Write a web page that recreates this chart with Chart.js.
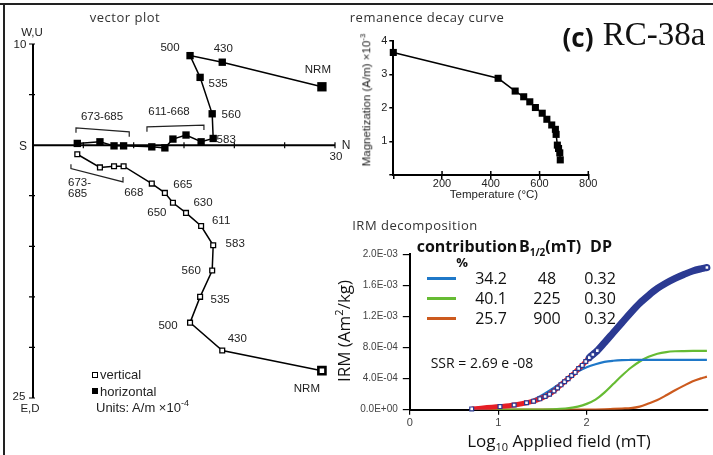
<!DOCTYPE html>
<html lang="en">
<head>
<meta charset="UTF-8">
<title>RC-38a</title>
<style>
    body { margin: 0; background: #fff; font-family: Arial, "Liberation Sans", sans-serif; color: #222; }
    #wrap { position: relative; width: 713px; height: 455px; overflow: hidden; }
    canvas { position: absolute; }
    .c, .l, .rot { position: absolute; white-space: nowrap; line-height: 1; }
    .c { transform: translate(-50%, -50%); }
    .l { transform: translate(0, -50%); }
    .rot { transform: translate(-50%, -50%) rotate(-90deg); }
    .ttl { font-family: "Open Sans", sans-serif; font-size: 13px; color: #333; letter-spacing: 0.5px; }
    .lbl { font-size: 11.5px; }
    .irm { font-family: "Open Sans", sans-serif; color: #111; }
    sub, sup { line-height: 0; }
    .swatch { position: absolute; height: 3px; width: 29px; left: 427px; }
</style>
<script src="https://cdn.jsdelivr.net/npm/chart.js"></script>
</head>
<body>
<div id="wrap">
    <div style="position:absolute;left:0;top:3px;width:713px;height:2px;background:#222"></div>
    <div style="position:absolute;left:3px;top:3px;width:2px;height:452px;background:#222"></div>

    <canvas id="zij" width="345" height="455" style="left:0;top:0"></canvas>
    <canvas id="decay" width="270" height="210" style="left:330px;top:0"></canvas>
    <canvas id="irm" width="383" height="245" style="left:330px;top:210px"></canvas>

    <!-- vector plot texts -->
    <div class="c ttl" style="left:125px;top:17px">vector plot</div>
    <div class="c lbl" style="left:32px;top:33px">W,U</div>
    <div class="c lbl" style="left:20px;top:45px">10</div>
    <div class="c" style="left:23px;top:146px;font-size:12px">S</div>
    <div class="c" style="left:346px;top:145px;font-size:12px">N</div>
    <div class="c lbl" style="left:336px;top:157px">30</div>
    <div class="c lbl" style="left:19px;top:397px">25</div>
    <div class="c lbl" style="left:30px;top:409px">E,D</div>
    <div class="c lbl" style="left:102px;top:117px">673-685</div>
    <div class="c lbl" style="left:169px;top:112px">611-668</div>
    <div class="l lbl" style="left:68px;top:183px">673-</div>
    <div class="l lbl" style="left:68px;top:194px">685</div>
    <div style="position:absolute;left:92px;top:372px;width:4px;height:4px;border:1.3px solid #000"></div>
    <div class="l" style="left:100px;top:374px;font-size:13px">vertical</div>
    <div style="position:absolute;left:92px;top:388px;width:6px;height:6px;background:#000"></div>
    <div class="l" style="left:100px;top:391px;font-size:13px">horizontal</div>
    <div class="l" style="left:96px;top:407px;font-size:13px">Units: A/m &times;10<sup style="font-size:9px">-4</sup></div>

    <!-- decay texts -->
    <div class="c ttl" style="left:427px;top:17px">remanence decay curve</div>
    <div class="rot" style="left:367px;top:100px;font-size:11.5px">Magnetization (A/m) &times;10<sup style="font-size:8px">-3</sup></div>
    <div class="c" style="left:494px;top:195px;font-size:11.5px">Temperature (&deg;C)</div>
    <div class="c" style="left:578px;top:37px;font-family:'Open Sans',sans-serif;font-weight:700;font-size:26px;color:#111">(c)</div>
    <div class="c" style="left:654px;top:34px;font-family:'Liberation Serif',serif;font-size:33px;color:#111">RC-38a</div>

    <!-- IRM texts -->
    <div class="c ttl" style="left:415px;top:225px">IRM decomposition</div>
    <div class="rot irm" style="left:343px;top:331px;font-size:17px">IRM (Am<sup style="font-size:11px">2</sup>/kg)</div>
    <div class="c irm" style="left:559px;top:440px;font-size:17px">Log<sub style="font-size:11px">10</sub> Applied field (mT)</div>
    <div class="c irm" style="left:467px;top:246px;font-size:16px;font-weight:700">contribution</div>
    <div class="c irm" style="left:550px;top:246px;font-size:16px;font-weight:700">B<sub style="font-size:10px">1/2</sub>(mT)</div>
    <div class="c irm" style="left:601px;top:246px;font-size:16px;font-weight:700">DP</div>
    <div class="c irm" style="left:462px;top:262px;font-size:13px;font-weight:700">%</div>
    <div class="swatch" style="top:277px;background:#1f78c8"></div>
    <div class="swatch" style="top:297px;background:#66bb33"></div>
    <div class="swatch" style="top:317px;background:#cc5a1e"></div>
    <div class="c irm" style="left:491px;top:278px;font-size:16px">34.2</div>
    <div class="c irm" style="left:547px;top:278px;font-size:16px">48</div>
    <div class="c irm" style="left:600px;top:278px;font-size:16px">0.32</div>
    <div class="c irm" style="left:491px;top:298px;font-size:16px">40.1</div>
    <div class="c irm" style="left:547px;top:298px;font-size:16px">225</div>
    <div class="c irm" style="left:600px;top:298px;font-size:16px">0.30</div>
    <div class="c irm" style="left:491px;top:318px;font-size:16px">25.7</div>
    <div class="c irm" style="left:547px;top:318px;font-size:16px">900</div>
    <div class="c irm" style="left:600px;top:318px;font-size:16px">0.32</div>
    <div class="c irm" style="left:482px;top:363px;font-size:14px">SSR = 2.69 e -08</div>
</div>

<script>
    // vector plot: demagnetisation steps, components in A/m x1e-4
    const stepLabels = ['NRM', '430', '500', '535', '560', '583', '611', '630', '650', '665', '668', '673', '678', '683', '685'];
    const northComp = [28.7, 18.8, 15.6, 16.6, 17.8, 17.9, 16.7, 15.2, 13.9, 13.1, 11.8, 9.0, 8.05, 6.65, 4.4];
    const westComp = [5.77, 8.2, 8.85, 6.7, 3.1, 0.66, 0.33, 1.0, 0.6, -0.27, -0.17, -0.07, -0.07, 0.33, 0.17];
    const downComp = [22.3, 20.3, 17.55, 15.0, 12.4, 9.9, 8.0, 6.7, 5.7, 4.72, 3.8, 2.08, 2.08, 2.2, 0.9];

    // grouping brackets (data units)
    const bracketHighX = [4.27, 4.27, 9.56, 9.56];
    const bracketHighY = [1.22, 1.71, 1.32, 0.82];
    const bracketMidX = [11.32, 11.32, 16.98, 16.98];
    const bracketMidY = [1.32, 1.81, 1.98, 1.49];
    const bracketLowX = [3.77, 3.77, 8.94, 8.94];
    const bracketLowY = [-1.88, -2.31, -3.63, -3.14];

    // remanence decay curve
    const decayTemp = [0, 430, 500, 535, 560, 583, 611, 630, 650, 665, 668, 673, 678, 683, 685];
    const decayMag = [3.65, 2.88, 2.5, 2.33, 2.18, 2.01, 1.84, 1.66, 1.49, 1.36, 1.21, 0.89, 0.79, 0.66, 0.45];

    // IRM acquisition (log10 mT, Am2/kg x1e-3)
    const irmLogB = [0.70, 1.02, 1.18, 1.32, 1.40, 1.47, 1.53, 1.58, 1.63, 1.67, 1.71, 1.75, 1.79, 1.83, 1.87, 1.91, 1.95, 1.99, 2.03, 2.07, 2.12, 2.2, 2.3, 2.4, 2.5, 2.6, 2.7, 2.8, 2.9, 3.0, 3.1, 3.2, 3.3, 3.36];
    const irmM = [0.01, 0.04, 0.06, 0.09, 0.11, 0.14, 0.17, 0.20, 0.24, 0.28, 0.32, 0.36, 0.40, 0.44, 0.48, 0.53, 0.57, 0.62, 0.67, 0.71, 0.76, 0.86, 0.99, 1.12, 1.25, 1.37, 1.47, 1.56, 1.63, 1.69, 1.74, 1.785, 1.815, 1.83];

    // components
    const compLogB = [0.7, 0.9, 1.1, 1.3, 1.4, 1.5, 1.6, 1.7, 1.8, 1.9, 2.0, 2.1, 2.2, 2.3, 2.4, 2.5, 2.6, 2.7, 2.8, 2.9, 3.0, 3.1, 3.2, 3.3, 3.36];
    const comp1M = [0.008, 0.02, 0.045, 0.09, 0.13, 0.19, 0.26, 0.34, 0.42, 0.49, 0.545, 0.585, 0.615, 0.63, 0.638, 0.64, 0.641, 0.641, 0.641, 0.641, 0.641, 0.641, 0.641, 0.641, 0.641];
    const comp2M = [0, 0, 0, 0, 0, 0.002, 0.005, 0.01, 0.02, 0.04, 0.075, 0.13, 0.22, 0.33, 0.44, 0.54, 0.62, 0.68, 0.72, 0.742, 0.752, 0.755, 0.756, 0.756, 0.756];
    const comp3M = [0, 0, 0, 0, 0, 0, 0, 0, 0, 0, 0, 0.002, 0.005, 0.01, 0.015, 0.02, 0.04, 0.08, 0.125, 0.185, 0.25, 0.31, 0.365, 0.405, 0.425];

    const pts = (xs, ys, sign) => xs.map((v, i) => ({ x: v, y: (sign || 1) * ys[i] }));

    // label offsets in px from the point (text centre)
    const hLabelOffsets = { 0: [-4, -17], 1: [1, -13], 2: [-20, -8], 3: [18, 6], 4: [19, 1], 5: [13, 1] };
    const vLabelOffsets = { 0: [-15, 18], 1: [15, -12], 2: [-22, 3], 3: [20, 3], 4: [-21, 0], 5: [22, -1], 6: [20, -5], 7: [17, -10], 8: [-16, 10], 9: [18, -8], 10: [-18, 9] };

    const zijPlugin = {
        id: 'zijPlugin',
        beforeDatasetsDraw(chart) {
            const { ctx, scales: { x, y } } = chart;
            const x0 = x.getPixelForValue(0), y0 = y.getPixelForValue(0);
            ctx.save();
            ctx.strokeStyle = '#000';
            ctx.lineWidth = 2;
            ctx.beginPath();
            ctx.moveTo(x0, y.getPixelForValue(10));
            ctx.lineTo(x0, y.getPixelForValue(-25));
            ctx.moveTo(x0, y0);
            ctx.lineTo(x.getPixelForValue(30), y0);
            ctx.stroke();
            ctx.lineWidth = 1.2;
            ctx.beginPath();
            for (let v = 5; v <= 30; v += 5) {
                const px = x.getPixelForValue(v);
                ctx.moveTo(px, y0 - 3);
                ctx.lineTo(px, y0 + 3);
            }
            for (let v = -25; v <= 10; v += 5) {
                if (v === 0) continue;
                const py = y.getPixelForValue(v);
                ctx.moveTo(x0 - 4, py);
                ctx.lineTo(x0 + 2, py);
            }
            ctx.stroke();
            ctx.restore();
        },
        afterDatasetsDraw(chart) {
            const { ctx, scales: { x, y } } = chart;
            ctx.save();
            ctx.font = '11.5px Arial, "Liberation Sans", sans-serif';
            ctx.fillStyle = '#222';
            ctx.textAlign = 'center';
            ctx.textBaseline = 'middle';
            for (const [i, off] of Object.entries(hLabelOffsets)) {
                ctx.fillText(stepLabels[i], x.getPixelForValue(northComp[i]) + off[0], y.getPixelForValue(westComp[i]) + off[1]);
            }
            for (const [i, off] of Object.entries(vLabelOffsets)) {
                ctx.fillText(stepLabels[i], x.getPixelForValue(northComp[i]) + off[0], y.getPixelForValue(-downComp[i]) + off[1]);
            }
            ctx.restore();
        }
    };

    const bracket = (xs, ys) => ({
        data: pts(xs, ys), showLine: true, borderColor: '#222', borderWidth: 1.2,
        pointRadius: 0, tension: 0, order: 5
    });

    new Chart(document.getElementById('zij'), {
        type: 'scatter',
        data: {
            datasets: [{
                label: 'horizontal',
                data: pts(northComp, westComp),
                showLine: true,
                borderColor: '#000',
                borderWidth: 1.5,
                pointStyle: 'rect',
                pointRadius: ctx => ctx.dataIndex === 0 ? 6.6 : 5.2,
                pointBackgroundColor: '#000',
                pointBorderWidth: 0,
                order: 1
            }, {
                label: 'vertical',
                data: pts(northComp, downComp, -1),
                showLine: true,
                borderColor: '#000',
                borderWidth: 1.5,
                pointStyle: 'rect',
                pointRadius: ctx => ctx.dataIndex === 0 ? 5 : 3.4,
                pointBackgroundColor: '#fff',
                pointBorderColor: '#000',
                pointBorderWidth: ctx => ctx.dataIndex === 0 ? 2.6 : 1.3,
                order: 2
            },
            bracket(bracketHighX, bracketHighY),
            bracket(bracketMidX, bracketMidY),
            bracket(bracketLowX, bracketLowY)]
        },
        options: {
            responsive: false,
            animation: false,
            clip: false,
            layout: { padding: { left: 33, right: 10, top: 44, bottom: 57 } },
            plugins: { legend: { display: false }, tooltip: { enabled: false } },
            scales: {
                x: { type: 'linear', min: 0, max: 30, display: false },
                y: { type: 'linear', min: -25, max: 10, display: false }
            }
        },
        plugins: [zijPlugin]
    });

    const tickFont = { family: 'Arial, "Liberation Sans", sans-serif', size: 11 };

    // inward half of the x ticks on the decay plot
    const crossTicks = {
        id: 'crossTicks',
        afterDraw(chart) {
            const { ctx, scales: { x }, chartArea } = chart;
            ctx.save();
            ctx.strokeStyle = '#000';
            ctx.lineWidth = 1.5;
            ctx.beginPath();
            x.ticks.forEach(t => {
                const px = x.getPixelForValue(t.value);
                ctx.moveTo(px, chartArea.bottom);
                ctx.lineTo(px, chartArea.bottom - 4);
            });
            ctx.stroke();
            ctx.restore();
        }
    };

    new Chart(document.getElementById('decay'), {
        type: 'scatter',
        data: {
            datasets: [{
                data: pts(decayTemp, decayMag),
                showLine: true,
                borderColor: '#000',
                borderWidth: 1.5,
                pointStyle: 'rect',
                pointRadius: 5,
                pointBackgroundColor: '#000',
                pointBorderWidth: 0,
                clip: false
            }]
        },
        options: {
            responsive: false,
            animation: false,
            layout: { padding: { left: 0, right: 11.7, top: 40.7, bottom: 0 } },
            plugins: { legend: { display: false }, tooltip: { enabled: false } },
            scales: {
                x: {
                    type: 'linear', min: 0, max: 800,
                    afterFit: s => { s.height = 35; },
                    border: { color: '#000', width: 2 },
                    grid: { drawOnChartArea: false, color: '#000', tickLength: 4, lineWidth: 1.5 },
                    ticks: { stepSize: 200, font: tickFont, color: '#222', padding: -2, maxRotation: 0,
                        callback: v => v === 0 ? '' : v }
                },
                y: {
                    type: 'linear', min: 0, max: 4,
                    afterFit: s => { s.width = 63.3; },
                    border: { color: '#000', width: 2 },
                    grid: { drawOnChartArea: false, color: '#000', tickLength: 4, lineWidth: 1.5 },
                    ticks: { stepSize: 1, font: tickFont, color: '#222', padding: 2,
                        callback: v => v === 0 ? '' : v }
                }
            }
        },
        plugins: [crossTicks]
    });

    const fmtE = v => {
        const [m, e] = (v * 1e-3).toExponential(1).split('e');
        const n = parseInt(e, 10);
        return m + 'E' + (n < 0 ? '-' : '+') + String(Math.abs(n)).padStart(2, '0');
    };

    const navy = '#2b3a92';

    new Chart(document.getElementById('irm'), {
        type: 'scatter',
        data: {
            datasets: [{
                label: 'IRM data',
                data: pts(irmLogB, irmM),
                showLine: true,
                cubicInterpolationMode: 'monotone',
                borderColor: navy,
                borderWidth: 7,
                borderCapStyle: 'round',
                segment: {
                    borderColor: ctx => ctx.p0.parsed.x >= 2.0 ? navy : 'rgba(0,0,0,0)'
                },
                pointStyle: 'rect',
                pointRadius: ctx => (irmLogB[ctx.dataIndex] < 2.15 || ctx.dataIndex === irmLogB.length - 1) ? 2.7 : 0,
                pointBackgroundColor: '#fff',
                pointBorderColor: navy,
                pointBorderWidth: 1.2,
                clip: false,
                order: 0
            }, {
                label: 'fit',
                data: pts(irmLogB, irmM),
                showLine: true,
                cubicInterpolationMode: 'monotone',
                borderColor: '#e61e25',
                borderWidth: 5,
                pointRadius: 0,
                order: 1
            }, {
                label: 'component 1',
                data: pts(compLogB, comp1M),
                showLine: true,
                cubicInterpolationMode: 'monotone',
                borderColor: '#1f78c8',
                borderWidth: 2.2,
                pointRadius: 0,
                order: 2
            }, {
                label: 'component 2',
                data: pts(compLogB, comp2M),
                showLine: true,
                cubicInterpolationMode: 'monotone',
                borderColor: '#66bb33',
                borderWidth: 2.2,
                pointRadius: 0,
                order: 3
            }, {
                label: 'component 3',
                data: pts(compLogB, comp3M),
                showLine: true,
                cubicInterpolationMode: 'monotone',
                borderColor: '#cc5a1e',
                borderWidth: 2.2,
                pointRadius: 0,
                order: 4
            }]
        },
        options: {
            responsive: false,
            animation: false,
            layout: { padding: { left: 0, right: 4.6, top: 44.3, bottom: 0 } },
            plugins: { legend: { display: false }, tooltip: { enabled: false } },
            scales: {
                x: {
                    type: 'linear', min: 0, max: 3.37,
                    afterFit: s => { s.height = 45.3; },
                    afterBuildTicks: s => { s.ticks = s.ticks.filter(t => Number.isInteger(t.value)); },
                    border: { color: '#000', width: 2 },
                    grid: { drawOnChartArea: false, color: '#000', tickLength: 5, lineWidth: 1.2 },
                    ticks: { stepSize: 1, font: { family: 'Arial, sans-serif', size: 11 }, color: '#444', padding: 2, maxRotation: 0 }
                },
                y: {
                    type: 'linear', min: 0, max: 2.0,
                    afterFit: s => { s.width = 79.8; },
                    border: { color: '#000', width: 2 },
                    grid: { drawOnChartArea: false, color: '#000', tickLength: 7, lineWidth: 1.2 },
                    ticks: { stepSize: 0.4, font: { family: 'Arial, sans-serif', size: 10 }, color: '#444', padding: 5,
                        callback: v => fmtE(v) }
                }
            }
        }
    });
</script>
</body>
</html>
